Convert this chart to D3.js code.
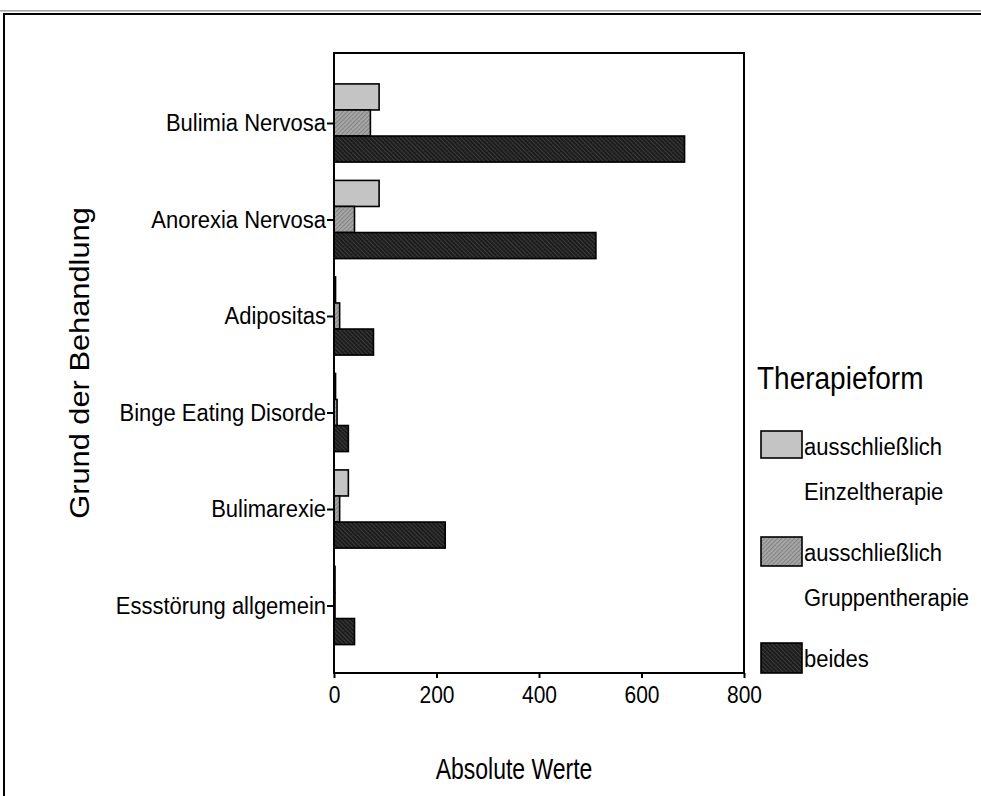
<!DOCTYPE html>
<html>
<head>
<meta charset="utf-8">
<script src="https://cdn.jsdelivr.net/npm/d3@7"></script>
<style>
  body { margin: 0; background: #fff; }
  svg { display: block; font-family: "Liberation Sans", Arial, sans-serif; }
</style>
</head>
<body>
<svg id="chart" width="981" height="796"></svg>
<script>
const categories = ["Bulimia Nervosa", "Anorexia Nervosa", "Adipositas", "Binge Eating Disorde", "Bulimarexie", "Essstörung allgemein"];
const seriesNames = ["ausschließlich Einzeltherapie", "ausschließlich Gruppentherapie", "beides"];
const einzel = [88, 88, 3, 3, 28, 2];
const gruppe = [71, 40, 11, 6, 11, 2];
const beides = [684, 511, 77, 28, 217, 40];
const xTicks = [0, 200, 400, 600, 800];
const legendLines = [["ausschließlich", "Einzeltherapie"], ["ausschließlich", "Gruppentherapie"], ["beides"]];

const SY = 1.1; // vertical text stretch seen in the reference

const svg = d3.select("#chart");
const defs = svg.append("defs");

const pG = defs.append("pattern").attr("id", "pGruppe").attr("patternUnits", "userSpaceOnUse")
  .attr("width", 3).attr("height", 3).attr("patternTransform", "rotate(45)");
pG.append("rect").attr("width", 3).attr("height", 3).attr("fill", "#a6a6a6");
pG.append("line").attr("x1", 0).attr("y1", 0).attr("x2", 0).attr("y2", 3).attr("stroke", "#6a6a6a").attr("stroke-width", 1.2);

const pB = defs.append("pattern").attr("id", "pBeides").attr("patternUnits", "userSpaceOnUse")
  .attr("width", 3).attr("height", 3).attr("patternTransform", "rotate(-45)");
pB.append("rect").attr("width", 3).attr("height", 3).attr("fill", "#1c1c1c");
pB.append("line").attr("x1", 0).attr("y1", 0).attr("x2", 0).attr("y2", 3).attr("stroke", "#5a5a5a").attr("stroke-width", 1);

const fills = ["#c4c4c4", "url(#pGruppe)", "url(#pBeides)"];
const seriesData = [einzel, gruppe, beides];

// outer frame
svg.append("line").attr("x1", 0).attr("x2", 981).attr("y1", 10.5).attr("y2", 10.5).attr("stroke", "#a8a8a8").attr("stroke-width", 1);
svg.append("line").attr("x1", 0).attr("x2", 981).attr("y1", 11.5).attr("y2", 11.5).attr("stroke", "#c8c8c8").attr("stroke-width", 1);
svg.append("line").attr("x1", 3).attr("x2", 981).attr("y1", 14).attr("y2", 14).attr("stroke", "#000").attr("stroke-width", 2);
svg.append("line").attr("x1", 4).attr("x2", 4).attr("y1", 13).attr("y2", 796).attr("stroke", "#000").attr("stroke-width", 2);

const plot = { left: 334, right: 744, top: 53, bottom: 673 };

const x = d3.scaleLinear().domain([0, 800]).range([plot.left, plot.right]);
const y0 = d3.scaleBand().domain(categories).range([74.75, 653.75]).paddingInner(0.19).paddingOuter(0.095);
const y1 = d3.scaleBand().domain(seriesNames).range([0, y0.bandwidth()]);

categories.forEach((c, i) => {
  seriesNames.forEach((s, j) => {
    const v = seriesData[j][i];
    svg.append("rect")
      .attr("x", x(0))
      .attr("y", y0(c) + y1(s))
      .attr("width", x(v) - x(0))
      .attr("height", y1.bandwidth())
      .attr("fill", fills[j])
      .attr("stroke", "#000")
      .attr("stroke-width", 1.6);
  });
});

svg.append("rect").attr("x", plot.left).attr("y", plot.top)
  .attr("width", plot.right - plot.left).attr("height", plot.bottom - plot.top)
  .attr("fill", "none").attr("stroke", "#000").attr("stroke-width", 2);

// x axis
const gx = svg.append("g").attr("transform", `translate(0,${plot.bottom})`)
  .call(d3.axisBottom(x).tickValues(xTicks).tickFormat(d3.format("d")).tickSize(5).tickPadding(7));
gx.select(".domain").remove();
gx.selectAll(".tick line").attr("stroke", "#000").attr("stroke-width", 2);
gx.selectAll(".tick text").attr("font-size", 21).attr("fill", "#000")
  .attr("font-family", "Liberation Sans, Arial, sans-serif")
  .attr("transform", `scale(1,${SY})`);

// y axis
const yc = d3.scalePoint().domain(categories).range([y0(categories[0]) + y0.bandwidth() / 2, y0(categories[5]) + y0.bandwidth() / 2]);
const gy = svg.append("g").attr("transform", `translate(${plot.left},0)`)
  .call(d3.axisLeft(yc).tickSize(7).tickPadding(1));
gy.select(".domain").remove();
gy.selectAll(".tick line").attr("stroke", "#000").attr("stroke-width", 2);
gy.selectAll(".tick text").attr("font-size", 22).attr("fill", "#000")
  .attr("font-family", "Liberation Sans, Arial, sans-serif")
  .attr("transform", `scale(1,${SY})`);

function addText(xp, yp, size, txt, anchor, sy) {
  return svg.append("text")
    .attr("transform", `translate(${xp},${yp}) scale(1,${sy || SY})`)
    .attr("text-anchor", anchor || "start")
    .attr("font-size", size).attr("fill", "#000").text(txt);
}

// axis titles
addText(514, 779, 23, "Absolute Werte", "middle", 1.25);
svg.append("text").attr("transform", `translate(89,363) rotate(-90) scale(${SY},1)`).attr("text-anchor", "middle")
  .attr("font-size", 28).attr("fill", "#000").text("Grund der Behandlung");

// legend
addText(757, 389, 28, "Therapieform");
const legY = [431, 537, 643];
const legH = [27, 29, 30];
seriesNames.forEach((s, j) => {
  svg.append("rect").attr("x", 761).attr("y", legY[j]).attr("width", 41).attr("height", legH[j])
    .attr("fill", fills[j]).attr("stroke", "#000").attr("stroke-width", 1.6);
  legendLines[j].forEach((t, k) => {
    addText(804, legY[j] + 24 + k * 45, 22, t);
  });
});
</script>
</body>
</html>
